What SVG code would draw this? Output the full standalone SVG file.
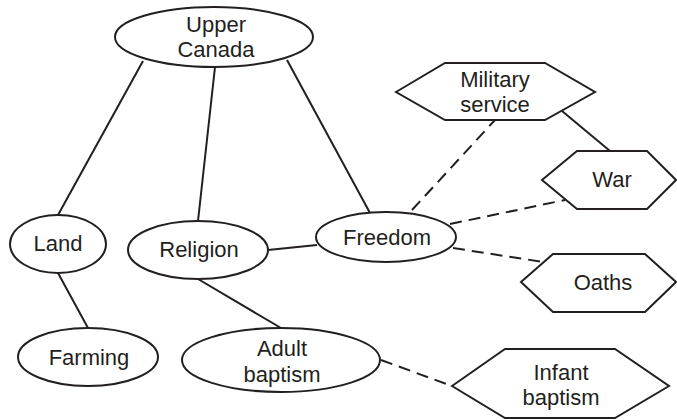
<svg xmlns="http://www.w3.org/2000/svg" width="677" height="420" viewBox="0 0 677 420">
<style>
.n{fill:#fff;stroke:#231f20;stroke-width:2}
.t{font-family:"Liberation Sans",Arial,sans-serif;font-size:22px;fill:#231f20;text-anchor:middle}
.c line{stroke:#231f20;stroke-width:2}
.c .d{stroke-dasharray:12 7}
</style>
<rect width="677" height="420" fill="#fff"/>
<g class="c" id="connectors">
<line x1="143" y1="61" x2="58" y2="215"/>
<line x1="215" y1="67" x2="198" y2="221"/>
<line x1="287" y1="60" x2="370" y2="213"/>
<line x1="268" y1="250" x2="317" y2="245"/>
<line x1="58" y1="273" x2="88" y2="328"/>
<line x1="198" y1="279" x2="281" y2="328"/>
<line x1="562" y1="111" x2="610" y2="151"/>
<line class="d" x1="412" y1="210" x2="495" y2="120"/>
<line class="d" x1="450" y1="224" x2="565" y2="200"/>
<line class="d" x1="453" y1="248" x2="550" y2="263"/>
<line class="d" x1="381" y1="360" x2="452" y2="386"/>
</g>
<g id="upper-canada"><ellipse class="n" cx="214" cy="37" rx="99" ry="30"/><text class="t" x="216" y="32">Upper</text><text class="t" x="216" y="57">Canada</text></g>
<g id="land"><ellipse class="n" cx="58" cy="244" rx="48" ry="29"/><text class="t" x="58" y="251">Land</text></g>
<g id="religion"><ellipse class="n" cx="198" cy="250" rx="70" ry="29"/><text class="t" x="199" y="257">Religion</text></g>
<g id="freedom"><ellipse class="n" cx="386" cy="237" rx="70" ry="25"/><text class="t" x="387" y="245">Freedom</text></g>
<g id="farming"><ellipse class="n" cx="88" cy="357" rx="70" ry="29"/><text class="t" x="89" y="365">Farming</text></g>
<g id="adult-baptism"><ellipse class="n" cx="281" cy="360" rx="99" ry="32"/><text class="t" x="282" y="356">Adult</text><text class="t" x="282" y="382">baptism</text></g>
<g id="military-service"><polygon class="n" points="396,92 445,63 545,63 595,92 545,120 445,120"/><text class="t" x="495" y="87">Military</text><text class="t" x="495" y="112">service</text></g>
<g id="war"><polygon class="n" points="542,180 577,151 647,151 676,180 647,209 577,209"/><text class="t" x="612" y="187">War</text></g>
<g id="oaths"><polygon class="n" points="521,282 553,254 645,254 676,282 645,312 553,312"/><text class="t" x="603" y="290">Oaths</text></g>
<g id="infant-baptism"><polygon class="n" points="452,386 505,349 615,349 669,386 615,418 505,418"/><text class="t" x="561" y="380">Infant</text><text class="t" x="561" y="405">baptism</text></g>
</svg>
